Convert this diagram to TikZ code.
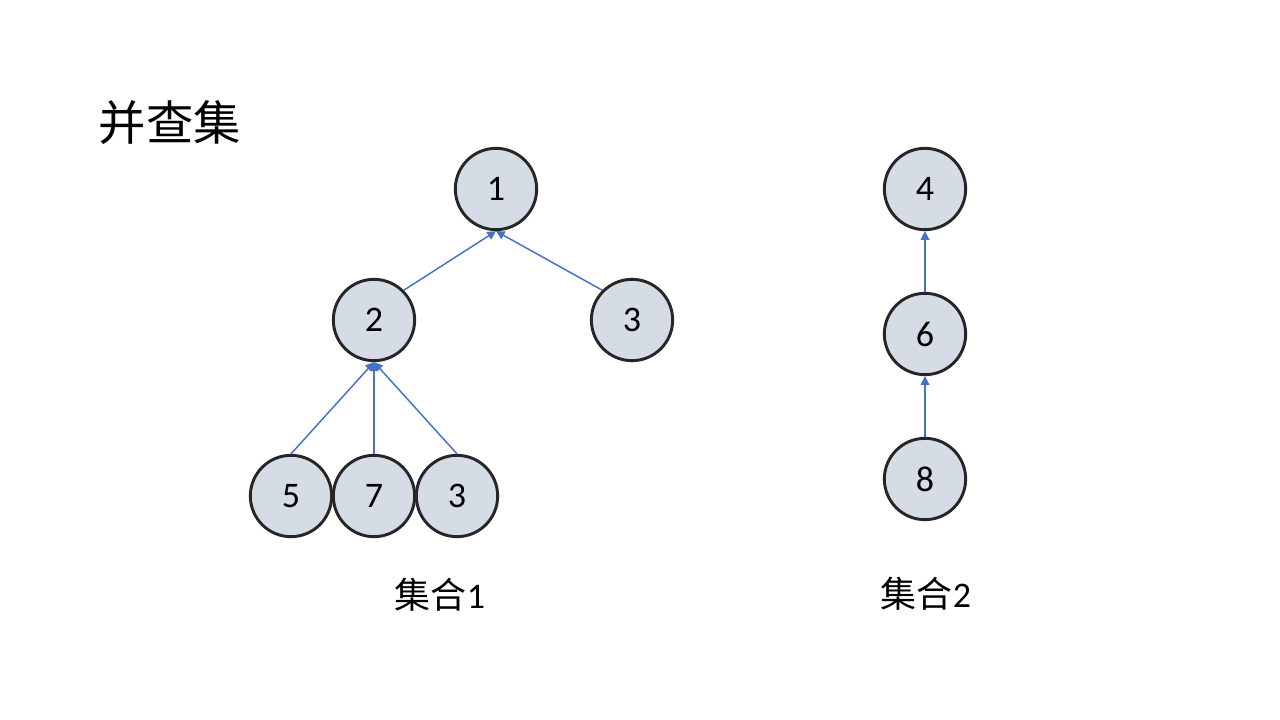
\documentclass[tikz,border=0pt]{standalone}
\usepackage{fontspec}
\usetikzlibrary{arrows.meta}
\setmainfont{Carlito}
\newfontfamily\cjk{Noto Sans CJK SC}
\definecolor{nodefill}{HTML}{D6DCE5}
\definecolor{nodeline}{HTML}{262626}
\definecolor{linkblue}{HTML}{4472C4}
\begin{document}
\begin{tikzpicture}[x=0.75pt,y=-0.75pt,
        elem/.style={circle,draw=nodeline,line width=2.2pt,fill=nodefill,minimum size=61pt,inner sep=0pt,font=\fontsize{27}{30}\selectfont},
        link/.style={linkblue,line width=1.1pt,-{Triangle[length=6.5pt,width=6.5pt]}},
        setlabel/.style={font=\fontsize{27}{30}\selectfont}]
            \useasboundingbox[fill=white] (0,0) rectangle (1280,720);
            \node[anchor=west,font=\cjk\fontsize{35.5}{40}\selectfont] (title) at (94,123) {并查集};
            % set 1
            \node[elem] (n1) at (496,189) {1};
            \node[elem] (n2) at (374,320) {2};
            \node[elem] (n3a) at (632,320) {3};
            \node[elem] (n5) at (291,496) {5};
            \node[elem] (n7) at (374,496) {7};
            \node[elem] (n3b) at (457,496) {3};
            \draw[link] (n2.north east) -- (n1.south);
            \draw[link] (n3a.north west) -- (n1.south);
            \draw[link] (n5.north) -- (n2.south);
            \draw[link] (n7.north) -- (n2.south);
            \draw[link] (n3b.north) -- (n2.south);
            % set 2
            \node[elem] (n4) at (925,189) {4};
            \node[elem] (n6) at (925,334) {6};
            \node[elem] (n8) at (925,479) {8};
            \draw[link] (n6) -- (n4);
            \draw[link] (n8) -- (n6);
            \node[setlabel] (set1) at (440,595) {{\cjk 集合}1};
            \node[setlabel] (set2) at (926,594) {{\cjk 集合}2};
        \end{tikzpicture}
\end{document}
